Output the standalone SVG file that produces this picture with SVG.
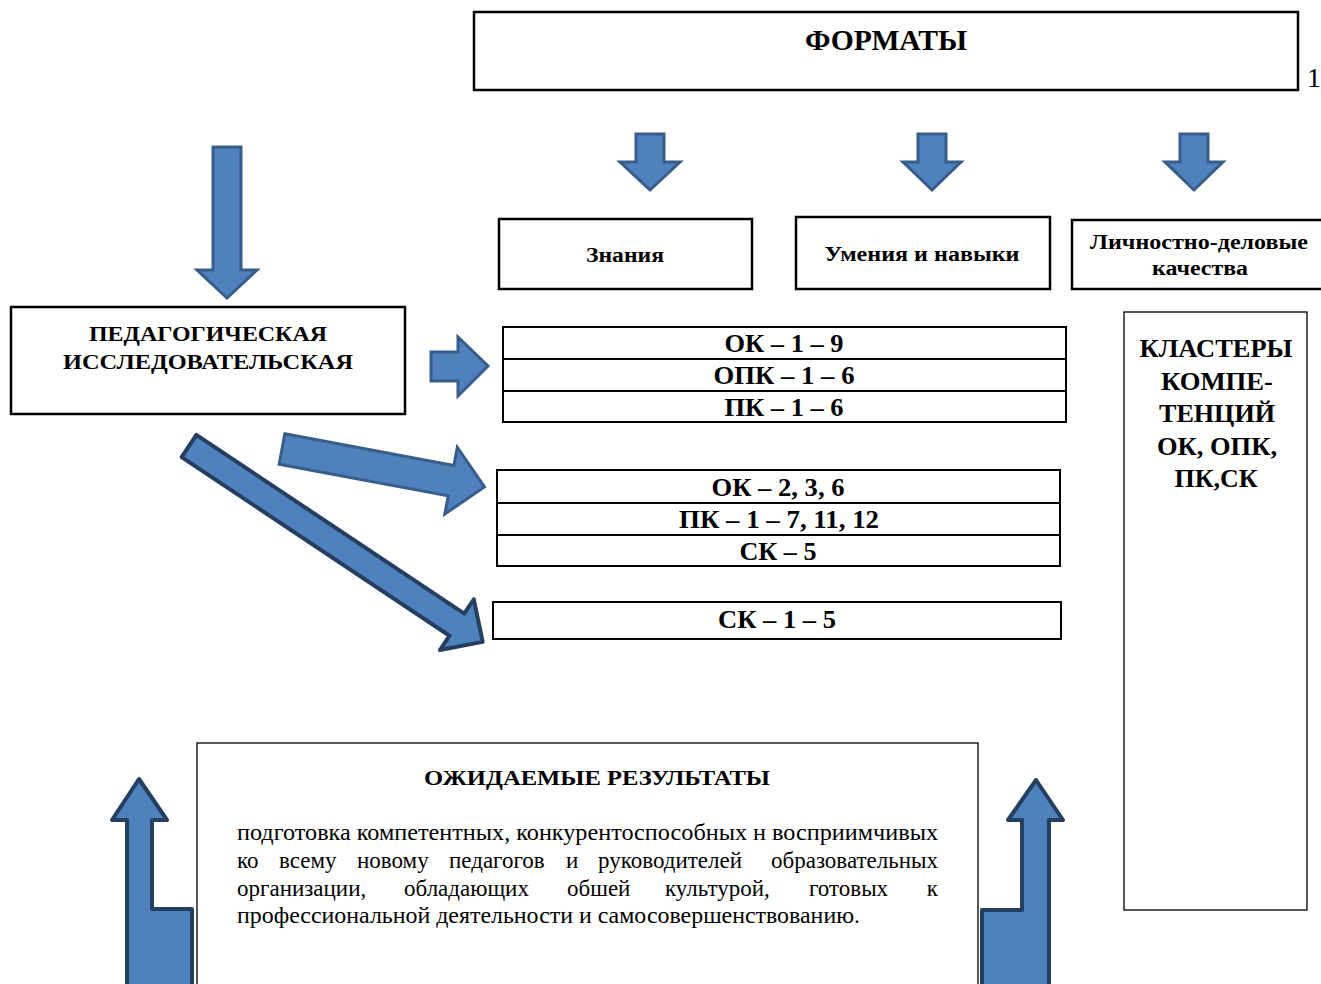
<svg xmlns="http://www.w3.org/2000/svg" width="1321" height="984" viewBox="0 0 1321 984">
<style>
.box{fill:#fff;stroke:#000;stroke-width:2.5}
.tbl{fill:#fff;stroke:#000;stroke-width:2}
.thin{fill:#fff;stroke:#000;stroke-width:1.3}
.arL{fill:#4F81BD;stroke:#385D8A;stroke-width:3;stroke-linejoin:miter}
.arD{fill:#4F81BD;stroke:#243F60;stroke-width:4;stroke-linejoin:round}
.b{font-family:"Liberation Serif","Times New Roman",serif;font-weight:bold;fill:#000;text-anchor:middle}
.r{font-family:"Liberation Serif","Times New Roman",serif;fill:#000;font-size:23px}
</style>
<rect width="1321" height="984" fill="#fff"/>
<g id="formaty">
<rect class="box" x="474" y="12" width="824" height="78"/>
<text class="b" x="886" y="50" font-size="29" textLength="162" lengthAdjust="spacingAndGlyphs">ФОРМАТЫ</text>
</g>
<text x="1307" y="87" font-family="Liberation Serif, serif" font-size="28" fill="#000">1</text>
<g id="connectors">
<path class="arL" d="M636,134 H664 V162 H680 L650,190 L620,162 H636 Z"/>
<path class="arL" d="M918,134 H946 V162 H961 L932,190 L903,162 H918 Z"/>
<path class="arL" d="M1180,134 H1208 V162 H1223 L1194,190 L1165,162 H1180 Z"/>
<path class="arL" d="M213,147 H241 V270 H257 L227,298 L197,270 H213 Z"/>
<path class="arL" d="M431,352 H458 V337 L488,366 L458,396 V381 H431 Z"/>
<path class="arL" transform="translate(282,449) rotate(10.6)" d="M0,-15.5 H172 V-34 L206,0 L172,34 V15.5 H0 Z"/>
<path class="arD" stroke-linejoin="miter" transform="translate(189,446) rotate(33.7)" d="M0,-13.3 H322 V-30.5 L353,0 L322,30.5 V13.3 H0 Z"/>
<path class="arD" d="M139,779 L167,820 H152 V909 H192 V990 H127 V820 H112 Z"/>
<path class="arD" d="M1036,780 L1063,820 H1049 V990 H982 V910 H1022 V820 H1008 Z"/>
</g>
<g id="znaniya">
<rect class="box" x="499" y="219" width="253" height="70"/>
<text class="b" x="625" y="262" font-size="20" textLength="78" lengthAdjust="spacingAndGlyphs">Знания</text>
</g>
<g id="umeniya">
<rect class="box" x="796" y="217" width="254" height="72"/>
<text class="b" x="922" y="261" font-size="20" textLength="195" lengthAdjust="spacingAndGlyphs">Умения и навыки</text>
</g>
<g id="lichnostno">
<rect class="box" x="1072" y="220" width="255" height="69"/>
<text class="b" x="1199" y="249" font-size="20" textLength="218" lengthAdjust="spacingAndGlyphs">Личностно-деловые</text>
<text class="b" x="1200" y="275" font-size="20" textLength="96" lengthAdjust="spacingAndGlyphs">качества</text>
</g>
<g id="pedagog">
<rect class="box" x="11" y="307" width="394" height="107"/>
<text class="b" x="208" y="341" font-size="22" textLength="238" lengthAdjust="spacingAndGlyphs">ПЕДАГОГИЧЕСКАЯ</text>
<text class="b" x="208" y="369" font-size="22" textLength="290" lengthAdjust="spacingAndGlyphs">ИССЛЕДОВАТЕЛЬСКАЯ</text>
</g>
<g id="table1">
<rect class="tbl" x="503" y="327" width="563" height="95"/>
<line x1="503" y1="359" x2="1066" y2="359" stroke="#000" stroke-width="2"/>
<line x1="503" y1="391" x2="1066" y2="391" stroke="#000" stroke-width="2"/>
<text class="b" x="784" y="352" font-size="26" textLength="119" lengthAdjust="spacingAndGlyphs">ОК – 1 – 9</text>
<text class="b" x="784" y="384" font-size="26" textLength="141" lengthAdjust="spacingAndGlyphs">ОПК – 1 – 6</text>
<text class="b" x="784" y="416" font-size="26" textLength="119" lengthAdjust="spacingAndGlyphs">ПК – 1 – 6</text>
</g>
<g id="table2">
<rect class="tbl" x="497" y="470" width="563" height="96"/>
<line x1="497" y1="503" x2="1060" y2="503" stroke="#000" stroke-width="2"/>
<line x1="497" y1="535" x2="1060" y2="535" stroke="#000" stroke-width="2"/>
<text class="b" x="778" y="496" font-size="26" textLength="133" lengthAdjust="spacingAndGlyphs">ОК – 2, 3, 6</text>
<text class="b" x="779" y="528" font-size="26" textLength="200" lengthAdjust="spacingAndGlyphs">ПК – 1 – 7, 11, 12</text>
<text class="b" x="778" y="560" font-size="26" textLength="77" lengthAdjust="spacingAndGlyphs">СК – 5</text>
</g>
<g id="sk15">
<rect class="tbl" x="493" y="602" width="568" height="37"/>
<text class="b" x="777" y="628" font-size="26" textLength="118" lengthAdjust="spacingAndGlyphs">СК – 1 – 5</text>
</g>
<g id="klastery">
<rect class="thin" x="1124" y="312" width="183" height="598"/>
<text class="b" x="1216" y="357" font-size="25" textLength="153" lengthAdjust="spacingAndGlyphs">КЛАСТЕРЫ</text>
<text class="b" x="1217" y="390" font-size="25" textLength="112" lengthAdjust="spacingAndGlyphs">КОМПЕ-</text>
<text class="b" x="1217" y="422" font-size="25" textLength="116" lengthAdjust="spacingAndGlyphs">ТЕНЦИЙ</text>
<text class="b" x="1217" y="455" font-size="25" textLength="120" lengthAdjust="spacingAndGlyphs">ОК, ОПК,</text>
<text class="b" x="1216" y="487" font-size="25" textLength="83" lengthAdjust="spacingAndGlyphs">ПК,СК</text>
</g>
<g id="rezultaty">
<rect class="thin" x="197" y="743" width="781" height="260"/>
<text class="b" x="597" y="785" font-size="22" textLength="346" lengthAdjust="spacingAndGlyphs">ОЖИДАЕМЫЕ РЕЗУЛЬТАТЫ</text>
<text class="r" x="237" y="840" textLength="701" lengthAdjust="spacingAndGlyphs">подготовка компетентных, конкурентоспособных н восприимчивых</text>
<text class="r" y="868"><tspan x="237">ко</tspan><tspan x="279">всему</tspan><tspan x="357">новому</tspan><tspan x="449">педагогов</tspan><tspan x="566">и</tspan><tspan x="598">руководителей</tspan></text>
<text class="r" y="868" x="938" text-anchor="end">образовательных</text>
<text class="r" y="896"><tspan x="237">организации,</tspan><tspan x="404">обладающих</tspan><tspan x="567">обшей</tspan><tspan x="665">культурой,</tspan><tspan x="809">готовых</tspan></text>
<text class="r" y="896" x="938" text-anchor="end">к</text>
<text class="r" x="237" y="923" textLength="623" lengthAdjust="spacingAndGlyphs">профессиональной деятельности и самосовершенствованию.</text>
</g>
</svg>
